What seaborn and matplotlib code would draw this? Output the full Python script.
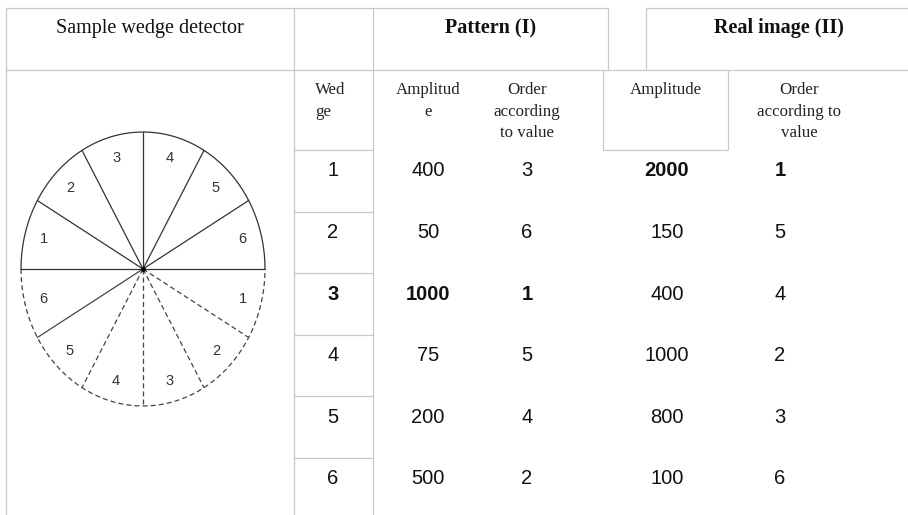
import numpy as np
import seaborn as sns
import matplotlib.pyplot as plt

# ---------------- data ----------------
wedges = [1, 2, 3, 4, 5, 6]
pattern_amp = [400, 50, 1000, 75, 200, 500]
pattern_order = [3, 6, 1, 5, 4, 2]
real_amp = [2000, 150, 400, 1000, 800, 100]
real_order = [1, 5, 4, 2, 3, 6]
upper_labels = ['6', '5', '4', '3', '2', '1']   # counter-clockwise from 0 deg
lower_labels = ['6', '5', '4', '3', '2', '1']   # from 180 deg onwards

sns.set_theme(style="white")
plt.rcParams['font.family'] = ['Liberation Sans', 'DejaVu Sans']

fig = plt.figure(figsize=(9.08, 5.15), dpi=100)
ax = fig.add_axes([0, 0, 1, 1])
ax.set_xlim(0, 908)
ax.set_ylim(515, 0)
ax.axis('off')

grid = dict(color='#c9c9c9', lw=0.9, solid_capstyle='butt')

# table frame
ax.plot([6, 608], [8, 8], **grid)
ax.plot([646, 908], [8, 8], **grid)
ax.plot([6, 908], [70, 70], **grid)
for x in [6, 294, 373]:
    ax.plot([x, x], [8, 515], **grid)
ax.plot([608, 608], [8, 70], **grid)
ax.plot([646, 646], [8, 70], **grid)
ax.plot([603, 603], [70, 150], **grid)
ax.plot([728, 728], [70, 150], **grid)
ax.plot([603, 728], [150, 150], **grid)

row_top = 150
row_h = 61.6
for i in range(len(wedges)):
    y = row_top + i * row_h
    ax.plot([294, 373], [y, y], **grid)

# headers
serif = 'Liberation Serif'
ax.text(150, 28, 'Sample wedge detector', family=serif, fontsize=14.5,
        ha='center', va='center', color='#111')
ax.text(491, 28, 'Pattern (I)', family=serif, fontsize=14.5, weight='bold',
        ha='center', va='center', color='#111')
ax.text(779, 28, 'Real image (II)', family=serif, fontsize=14.5, weight='bold',
        ha='center', va='center', color='#111')

sub_headers = [
    (315, 'left', ['Wed', 'ge']),
    (428, 'center', ['Amplitud', 'e']),
    (527, 'center', ['Order', 'according', 'to value']),
    (666, 'center', ['Amplitude']),
    (799, 'center', ['Order', 'according to', 'value']),
]
for x, ha, lines in sub_headers:
    for k, line in enumerate(lines):
        ax.text(x, 90 + k * 21.5, line, family=serif, fontsize=12.2,
                ha=ha, va='center', color='#222')

# data cells
for i, w in enumerate(wedges):
    y = 171 + i * row_h
    pb = 'bold' if pattern_order[i] == 1 else 'normal'
    rb = 'bold' if real_order[i] == 1 else 'normal'
    kw = dict(fontsize=14.5, ha='center', va='center', color='#111')
    ax.text(333, y, str(w), weight=pb, **kw)
    ax.text(428, y, str(pattern_amp[i]), weight=pb, **kw)
    ax.text(527, y, str(pattern_order[i]), weight=pb, **kw)
    ax.text(667, y, str(real_amp[i]), weight=rb, **kw)
    ax.text(780, y, str(real_order[i]), weight=rb, **kw)

# wedge detector (ellipse split in 12 sectors)
cx, cy, rx, ry = 143, 269, 122, 137
t_up = np.linspace(0, np.pi, 200)
t_lo = np.linspace(np.pi, 2 * np.pi, 200)
sns.lineplot(x=cx + rx * np.cos(t_up), y=cy - ry * np.sin(t_up), sort=False,
             ax=ax, color='#333', lw=0.9)
sns.lineplot(x=cx + rx * np.cos(t_lo), y=cy - ry * np.sin(t_lo), sort=False,
             ax=ax, color='#444', lw=0.9, linestyle=(0, (4, 2.5)))
ax.plot([cx - rx, cx + rx], [cy, cy], color='#333', lw=0.9)

n = len(upper_labels)
for k in range(1, n):
    a = np.pi * k / n
    ax.plot([cx, cx + rx * np.cos(a)], [cy, cy - ry * np.sin(a)], color='#333', lw=0.9)
    b = np.pi + np.pi * k / n
    ls = '-' if k == 1 else (0, (4, 2.5))
    ax.plot([cx, cx + rx * np.cos(b)], [cy, cy - ry * np.sin(b)], color='#444', lw=0.9,
            linestyle=ls)

for k, lab in enumerate(upper_labels):
    a = np.pi * (k + 0.5) / n
    ax.text(cx + 0.84 * rx * np.cos(a), cy - 0.84 * ry * np.sin(a), lab,
            fontsize=10.5, ha='center', va='center', color='#333')
for k, lab in enumerate(lower_labels):
    b = np.pi + np.pi * (k + 0.5) / n
    ax.text(cx + 0.85 * rx * np.cos(b), cy - 0.85 * ry * np.sin(b), lab,
            fontsize=10.5, ha='center', va='center', color='#333')
ax.scatter([cx], [cy], s=6, color='black', zorder=5)

fig.savefig('out.png', dpi=100)
